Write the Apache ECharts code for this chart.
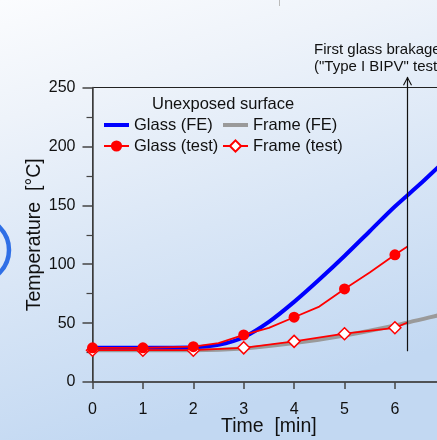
<!DOCTYPE html>
<html>
<head>
<meta charset="utf-8">
<script src="https://cdn.jsdelivr.net/npm/echarts@6/dist/echarts.min.js"></script>
<style>
  html, body { margin: 0; padding: 0; }
  #chart { width: 437px; height: 440px; }
</style>
</head>
<body>
<div id="chart"></div>
<script>
// time [min] / temperature [°C]
var glassFeTime = [0, 1, 2, 2.5, 3, 3.5, 4, 4.5, 5, 5.5, 6, 6.5, 7, 7.5];
var glassFe = [29, 29, 29.5, 31.5, 38, 51, 68, 87, 107, 128, 149, 168, 188, 206];

var frameFeTime = [0, 1, 2, 3, 4, 5, 6, 7, 7.5];
var frameFe = [27, 27, 27, 28.5, 33, 39.5, 48, 58, 63];

var glassTestTime = [0, 1, 2, 2.5, 3, 3.5, 4, 4.5, 5, 5.5, 6, 6.25];
var glassTest = [29, 29, 30, 33, 40, 46, 55, 64, 79, 93, 108, 115];

var frameTestTime = [0, 1, 2, 3, 4, 5, 6, 6.25];
var frameTest = [27, 27, 27, 29, 34.5, 41, 46, 50.5];

// first glass breakage marker (time, from temp, to temp)
var breakTime = 6.25;
var breakFrom = 26;
var breakTo = 259;
var yTicks = [0, 50, 100, 150, 200, 250];

var font = 'Liberation Sans, Arial, sans-serif';
var thickIcon = 'path://M0,0 H25 V4 H0 Z';
var chevron = 'path://M0,9 L4.5,0 L9,9 L8,9.5 L4.5,2.5 L1,9.5 Z';

function pairs(ts, vs, markInts) {
  return ts.map(function (t, i) {
    var item = { value: [t, vs[i]] };
    if (markInts && t % 1 !== 0) item.symbol = 'none';
    return item;
  });
}

var chart = echarts.init(document.getElementById('chart'));

var legendText = { fontSize: 16.5, color: '#111', fontFamily: font };

chart.setOption({
  backgroundColor: new echarts.graphic.LinearGradient(0, 0, 0.3, 1, [
    { offset: 0, color: '#fbfcfe' },
    { offset: 0.25, color: '#eef3fa' },
    { offset: 0.6, color: '#d9e6f6' },
    { offset: 1, color: '#c2d8f2' }
  ]),
  animation: false,
  textStyle: { fontFamily: font },
  grid: {
    left: 92.5, top: 87.5, width: 504, height: 294.5,
    outerBoundsMode: 'none', containLabel: false,
    show: true, borderColor: '#222', borderWidth: 1,
    backgroundColor: 'transparent'
  },
  graphic: [
    {
      type: 'arc', shape: { cx: -23, cy: 250, r: 32, startAngle: -Math.PI / 2, endAngle: Math.PI / 2 },
      style: { stroke: '#2f6fe6', lineWidth: 4.5, fill: 'none' }
    },
    {
      type: 'line', shape: { x1: 279.5, y1: 0, x2: 279.5, y2: 6 },
      style: { stroke: '#bbb', lineWidth: 1 }
    },
    {
      type: 'text', left: 152, top: 95.5,
      style: { text: 'Unexposed surface', font: '16.5px ' + font, fill: '#111' }
    },
    {
      type: 'text', left: 314, top: 41,
      style: { text: 'First glass brakage\n("Type I BIPV" test)', font: '15px ' + font, fill: '#111', lineHeight: 17 }
    },
    {
      type: 'text', left: 221, top: 417,
      style: { text: 'Time  [min]', font: '19.5px ' + font, fill: '#111' }
    }
  ],
  legend: [
    {
      left: 103, top: 116.5, orient: 'vertical', itemGap: 4, padding: 0,
      itemWidth: 25, itemHeight: 14,
      textStyle: legendText,
      data: [{ name: 'Glass (FE)', icon: thickIcon }, { name: 'Glass (test)' }]
    },
    {
      left: 222, top: 116.5, orient: 'vertical', itemGap: 4, padding: 0,
      itemWidth: 25, itemHeight: 14,
      textStyle: legendText,
      data: [{ name: 'Frame (FE)', icon: thickIcon }, { name: 'Frame (test)' }]
    }
  ],
  xAxis: {
    type: 'value', min: 0, max: 10, interval: 1,
    axisLine: { show: true, onZero: false, lineStyle: { color: '#444', width: 1.5 } },
    axisTick: { show: true, length: 7, inside: false, lineStyle: { color: '#444', width: 1.5 } },
    axisLabel: { margin: 20, fontSize: 16, color: '#111', fontFamily: font },
    splitLine: { show: false }
  },
  yAxis: {
    type: 'value', min: 0, max: 250, interval: 50,
    name: 'Temperature  [°C]', nameLocation: 'middle', nameGap: 48, nameRotate: 90,
    nameMoveOverlap: false,
    nameTextStyle: { fontSize: 19.5, color: '#111', fontFamily: font },
    axisLine: { show: true, lineStyle: { color: '#444', width: 1.5 } },
    axisTick: { show: true, length: 10, lineStyle: { color: '#444', width: 1.5 } },
    minorTick: { show: true, splitNumber: 2, length: 6, lineStyle: { color: '#444', width: 1.2 } },
    axisLabel: {
      margin: 17, fontSize: 16, color: '#111', fontFamily: font,
      formatter: function (v) { return yTicks.indexOf(v) >= 0 ? String(v) : ''; }
    },
    splitLine: { show: false }
  },
  series: [
    {
      name: 'Frame (FE)', type: 'line', smooth: 0.3, symbol: 'none',
      color: '#9a9a9a', lineStyle: { width: 4, color: '#9a9a9a' },
      data: pairs(frameFeTime, frameFe), z: 2
    },
    {
      name: 'Glass (FE)', type: 'line', smooth: 0.3, symbol: 'none',
      color: '#0000ff', lineStyle: { width: 4, color: '#0000ff' },
      data: pairs(glassFeTime, glassFe), z: 3
    },
    {
      name: 'Frame (test)', type: 'line', symbol: 'diamond', symbolSize: 12,
      color: '#ff0000',
      lineStyle: { width: 1.8, color: '#ff0000' },
      itemStyle: { color: '#ffffff', borderColor: '#ff0000', borderWidth: 1.5 },
      data: pairs(frameTestTime, frameTest, true), z: 4
    },
    {
      name: 'Glass (test)', type: 'line', symbol: 'circle', symbolSize: 11,
      color: '#ff0000',
      lineStyle: { width: 1.8, color: '#ff0000' },
      itemStyle: { color: '#ff0000' },
      data: pairs(glassTestTime, glassTest, true), z: 5
    },
    {
      name: 'breakage', type: 'line', clip: false, silent: true,
      color: '#111', lineStyle: { width: 1.2, color: '#111' },
      data: [
        { value: [breakTime, breakFrom], symbol: 'none' },
        { value: [breakTime, breakTo], symbol: chevron, symbolSize: [9, 9], symbolOffset: [0, 4] }
      ],
      itemStyle: { color: '#111' }, z: 6
    }
  ]
});
</script>
</body>
</html>
